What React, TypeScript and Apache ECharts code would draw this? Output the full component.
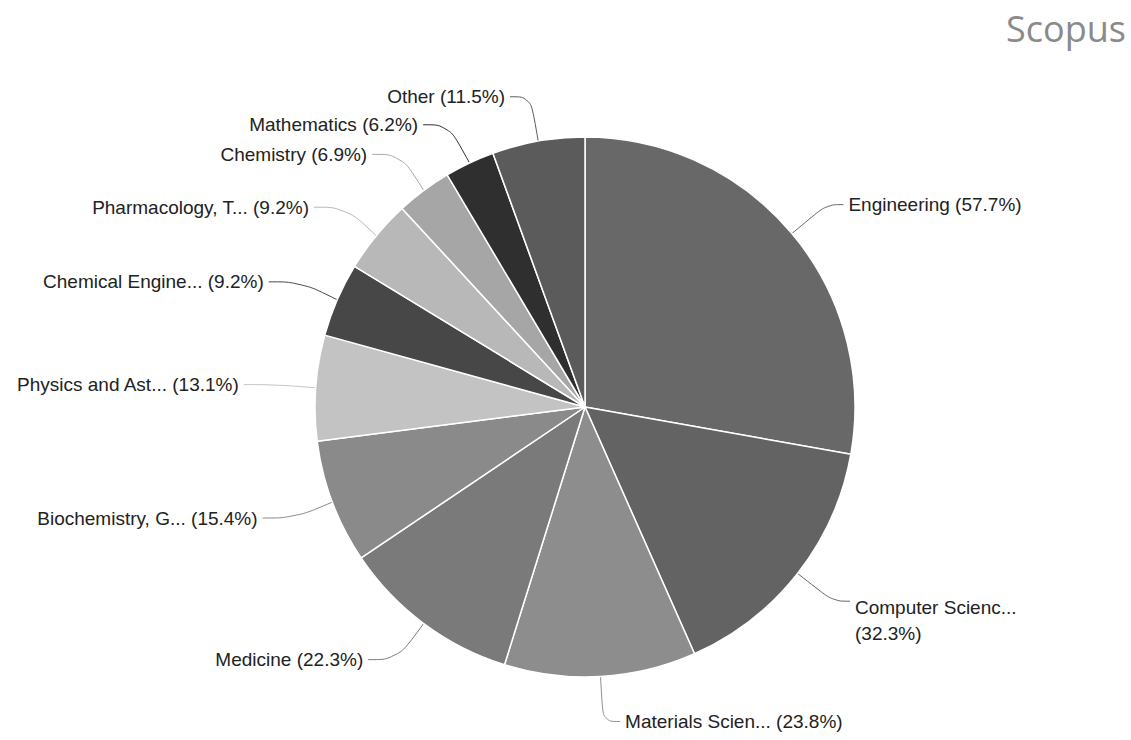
import React, { useEffect, useRef } from "react";
import * as echarts from "echarts";

const categories = [
  "Engineering",
  "Computer Scienc...",
  "Materials Scien...",
  "Medicine",
  "Biochemistry, G...",
  "Physics and Ast...",
  "Chemical Engine...",
  "Pharmacology, T...",
  "Chemistry",
  "Mathematics",
  "Other",
];
const values = [57.7, 32.3, 23.8, 22.3, 15.4, 13.1, 9.2, 9.2, 6.9, 6.2, 11.5];
const colors = [
  "#686868",
  "#636363",
  "#8d8d8d",
  "#7a7a7a",
  "#8a8a8a",
  "#c3c3c3",
  "#474747",
  "#b8b8b8",
  "#a6a6a6",
  "#2f2f2f",
  "#5b5b5b",
];
const wrappedLabels = ["Computer Scienc..."];

export default function App() {
  const ref = useRef<HTMLDivElement>(null);
  useEffect(() => {
    if (!ref.current) return;
    const chart = echarts.init(ref.current, undefined, { renderer: "svg" });
    const total = values.reduce((a, b) => a + b, 0);
    let cum = 0;
    const data = categories.map((name, i) => {
      const mid = (cum + values[i] / 2) / total;
      cum += values[i];
      const leftSide = mid > 0.5;
      const s = Math.abs(Math.sin(mid * 2 * Math.PI));
      return {
        name,
        value: values[i],
        itemStyle: { color: colors[i] },
        labelLine: { length2: leftSide ? 17 + 15 * Math.min(1, s * 1.3) : 17 },
      };
    });
    chart.setOption({
      animation: false,
      backgroundColor: "#ffffff",
      title: {
        text: "Scopus",
        right: 0,
        top: 5,
        textStyle: {
          fontFamily: "Open Sans",
          fontSize: 36,
          fontWeight: "normal",
          color: "#8a8a8a",
        },
      },
      series: [
        {
          type: "pie",
          center: [585, 407],
          radius: 270,
          startAngle: 90,
          clockwise: true,
          data,
          itemStyle: { borderColor: "#ffffff", borderWidth: 1.5 },
          label: {
            show: true,
            fontFamily: "Liberation Sans",
            fontSize: 19,
            color: "#222222",
            lineHeight: 26,
            formatter: (p: any) =>
              wrappedLabels.includes(p.name)
                ? `${p.name}\n(${p.value}%)`
                : `${p.name} (${p.value}%)`,
          },
          labelLine: {
            show: true,
            length: 45,
            length2: 20,
            smooth: 0.4,
            lineStyle: { width: 1 },
          },
          labelLayout: (params: any) =>
            wrappedLabels.includes(categories[params.dataIndex])
              ? { dy: 19 }
              : {},
          emphasis: { disabled: true },
        },
      ],
    });
    return () => chart.dispose();
  }, []);
  return (
    <div
      ref={ref}
      style={{ position: "fixed", left: 0, top: 0, width: 1131, height: 740 }}
    />
  );
}
